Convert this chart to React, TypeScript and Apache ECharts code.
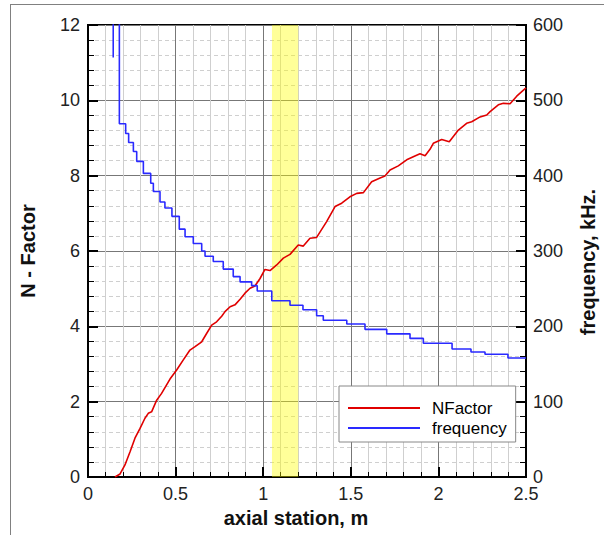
import React, { useEffect, useRef } from 'react';
import * as echarts from 'echarts';

// N-Factor along the axial station (m)
const nFactorStation = [
  0.154, 0.183, 0.211, 0.24, 0.268, 0.297, 0.325, 0.344, 0.363, 0.392, 0.42, 0.468,
  0.506, 0.544, 0.582, 0.611, 0.649, 0.677, 0.706, 0.734, 0.763, 0.782, 0.811, 0.839,
  0.868, 0.896, 0.925, 0.953, 0.982, 1.01, 1.039, 1.077, 1.115, 1.153, 1.2, 1.229,
  1.267, 1.305, 1.362, 1.41, 1.448, 1.495, 1.534, 1.572, 1.619, 1.667, 1.695, 1.724,
  1.771, 1.819, 1.866, 1.895, 1.924, 1.952, 1.971, 2.019, 2.062, 2.114, 2.161, 2.19,
  2.238, 2.276, 2.295, 2.342, 2.371, 2.409, 2.447, 2.5,
];
const nFactorValue = [
  0, 0.08, 0.32, 0.67, 1.03, 1.29, 1.56, 1.69, 1.73, 2.04, 2.22, 2.6,
  2.84, 3.11, 3.37, 3.46, 3.59, 3.81, 4.03, 4.12, 4.27, 4.39, 4.52, 4.57,
  4.72, 4.88, 5.01, 5.07, 5.27, 5.51, 5.48, 5.63, 5.81, 5.91, 6.16, 6.13,
  6.34, 6.36, 6.78, 7.18, 7.27, 7.44, 7.53, 7.55, 7.84, 7.94, 7.99, 8.15,
  8.26, 8.42, 8.52, 8.58, 8.53, 8.7, 8.86, 8.96, 8.9, 9.21, 9.39, 9.43,
  9.56, 9.61, 9.7, 9.88, 9.92, 9.91, 10.11, 10.33,
];

// frequency (kHz), stepwise: each value holds from its station to the next one
const freqStation = [
  0.144, 0.144, 0.179, 0.215, 0.232, 0.259, 0.278, 0.316, 0.358, 0.373, 0.411, 0.439,
  0.479, 0.521, 0.554, 0.601, 0.649, 0.668, 0.715, 0.772, 0.829, 0.868, 0.934, 0.966,
  1.049, 1.153, 1.227, 1.305, 1.343, 1.477, 1.581, 1.705, 1.838, 1.914, 2.078, 2.186,
  2.266, 2.397, 2.5,
];
const freqValue = [
  557, 2000, 469, 456, 444, 432, 419, 403, 390, 379, 365, 357,
  346, 329, 319, 310, 300, 293, 286, 276, 266, 259, 254, 247,
  234, 228, 222, 214, 208, 203, 196, 190, 184, 177.5, 170, 166,
  163, 158, 158,
];

const highlightBand = [1.05, 1.2];
const seriesNames = ['NFactor', 'frequency'];

const FONT = '"Liberation Sans", Arial, Helvetica, sans-serif';

export default function App() {
  const ref = useRef<HTMLDivElement>(null);
  useEffect(() => {
    const chart = echarts.init(ref.current!, null, { renderer: 'svg' });
    const nfData = nFactorStation.map((x, i) => [x, nFactorValue[i]]);
    const frData = freqStation.map((x, i) => [x, freqValue[i]]);
    const labelStyle = { color: '#222', fontSize: 18, fontFamily: FONT };
    const titleStyle = (text: string) => ({
      text,
      font: `bold 20px ${FONT}`,
      fill: '#111',
      textAlign: 'center',
      textVerticalAlign: 'middle',
      align: 'center',
      verticalAlign: 'middle',
    });
    chart.setOption({
      animation: false,
      backgroundColor: '#fff',
      grid: { left: 88, top: 25, right: 78, bottom: 58, show: true, borderColor: '#000', borderWidth: 2 },
      legend: {
        orient: 'vertical',
        left: 339,
        top: 386,
        data: seriesNames,
        icon: 'rect',
        itemWidth: 72,
        itemHeight: 2,
        itemGap: 2,
        backgroundColor: '#fff',
        borderColor: '#888',
        borderWidth: 1,
        borderRadius: 0,
        padding: [13, 9, 5, 9],
        textStyle: { fontFamily: FONT, fontSize: 17, color: '#000', lineHeight: 18, padding: [0, 0, 0, 7] },
      },
      xAxis: {
        type: 'value',
        min: 0,
        max: 2.5,
        interval: 0.5,
        axisLine: { show: true, onZero: false, lineStyle: { color: '#000', width: 2 } },
        axisTick: { show: true, inside: true, length: 10, lineStyle: { color: '#000', width: 2 } },
        minorTick: { show: true, splitNumber: 5, length: 5, lineStyle: { color: '#000', width: 1 } },
        axisLabel: { ...labelStyle, margin: 8 },
        splitLine: { show: true, lineStyle: { color: '#777', width: 1 } },
        minorSplitLine: { show: true, lineStyle: { color: '#cfcfcf', width: 1 } },
      },
      yAxis: [
        {
          type: 'value',
          min: 0,
          max: 12,
          interval: 2,
          axisLine: { show: true, onZero: false, lineStyle: { color: '#000', width: 2 } },
          axisTick: { show: true, inside: true, length: 10, lineStyle: { color: '#000', width: 2 } },
          minorTick: { show: true, splitNumber: 5, length: 6, lineStyle: { color: '#000', width: 1 } },
          axisLabel: { ...labelStyle, margin: 8 },
          splitLine: { show: true, lineStyle: { color: '#777', width: 1 } },
          minorSplitLine: { show: true, lineStyle: { color: '#cfcfcf', width: 1, type: [4, 3] } },
        },
        {
          type: 'value',
          position: 'right',
          min: 0,
          max: 600,
          interval: 100,
          axisLine: { show: true, onZero: false, lineStyle: { color: '#000', width: 2 } },
          axisTick: { show: true, inside: true, length: 10, lineStyle: { color: '#000', width: 2 } },
          minorTick: { show: true, splitNumber: 5, length: 6, lineStyle: { color: '#000', width: 1 } },
          axisLabel: { ...labelStyle, margin: 7 },
          splitLine: { show: false },
          minorSplitLine: { show: false },
        },
      ],
      series: [
        {
          name: seriesNames[0],
          type: 'line',
          data: nfData,
          symbol: 'none',
          showSymbol: false,
          clip: true,
          z: 3,
          lineStyle: { color: '#e00000', width: 1.6 },
          itemStyle: { color: '#e00000' },
          markArea: {
            silent: true,
            itemStyle: { color: 'rgba(255,255,0,0.4)' },
            data: [[{ xAxis: highlightBand[0] }, { xAxis: highlightBand[1] }]],
          },
        },
        {
          name: seriesNames[1],
          type: 'line',
          yAxisIndex: 1,
          data: frData,
          step: 'end',
          symbol: 'none',
          showSymbol: false,
          clip: true,
          z: 4,
          lineStyle: { color: '#2a2aff', width: 1.6 },
          itemStyle: { color: '#2a2aff' },
        },
      ],
      graphic: [
        { type: 'line', shape: { x1: 10, y1: 4.5, x2: 604, y2: 4.5 }, style: { stroke: '#808080', lineWidth: 1 } },
        { type: 'line', shape: { x1: 10.5, y1: 4, x2: 10.5, y2: 535 }, style: { stroke: '#808080', lineWidth: 1 } },
        { type: 'text', x: 296, y: 518, style: titleStyle('axial station, m') },
        { type: 'text', x: 28, y: 251, rotation: Math.PI / 2, style: titleStyle('N - Factor') },
        { type: 'text', x: 588, y: 262, rotation: Math.PI / 2, style: titleStyle('frequency, kHz.') },
      ],
    });
    return () => chart.dispose();
  }, []);
  return (
    <div
      ref={ref}
      style={{ position: 'fixed', left: 0, top: 0, width: 604, height: 535, background: '#fff' }}
    />
  );
}
